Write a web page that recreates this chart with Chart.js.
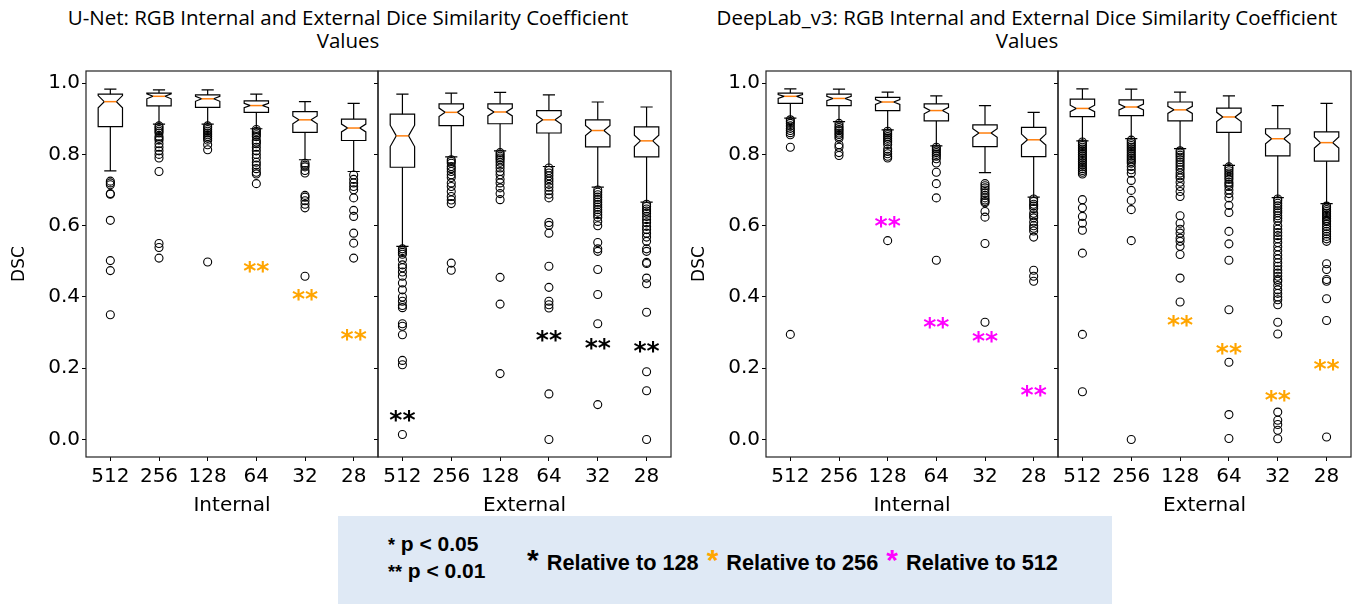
<!DOCTYPE html>
<html>
<head>
<meta charset="utf-8">
<script src="https://cdn.jsdelivr.net/npm/chart.js@4.4.0/dist/chart.umd.min.js"></script>
<style>
  body { margin: 0; width: 1359px; height: 604px; background: #fff; position: relative; overflow: hidden; }
  canvas { position: absolute; }
  .title { position: absolute; top: 6px; font-family: 'Open Sans', sans-serif; font-size: 20.5px; line-height: 23px; text-align: center; color: #000; }
  #legend { position: absolute; left: 338px; top: 516px; width: 774px; height: 88px; background: #dfe9f5; font-family: 'Liberation Sans', Arial, sans-serif; font-weight: bold; color: #000; }
  #pvals { position: absolute; left: 50px; top: 15px; font-size: 21px; line-height: 26px; white-space: pre; }
  #pvals .small { font-size: 18px; }
  #relative { position: absolute; left: 187px; top: 28px; font-size: 21.7px; line-height: 32px; white-space: pre; }
  #relative .star { font-size: 30px; margin: 0 2px; }
</style>
</head>
<body>
<div class="title" style="left:0;width:696px">U-Net: RGB Internal and External Dice Similarity Coefficient<br>Values</div>
<div class="title" style="left:697px;width:660px">DeepLab_v3: RGB Internal and External Dice Similarity Coefficient<br>Values</div>

<canvas id="unetInt" width="379" height="460" style="left:0;top:60px"></canvas>
<canvas id="unetExt" width="304" height="460" style="left:368px;top:60px"></canvas>
<canvas id="deepInt" width="379" height="460" style="left:680px;top:60px"></canvas>
<canvas id="deepExt" width="304" height="460" style="left:1048px;top:60px"></canvas>

<div id="legend">
  <div id="pvals"><span class="small">*</span> p &lt; 0.05
<span class="small">**</span> p &lt; 0.01</div>
  <div id="relative"><span class="star">*</span> Relative to 128 <span class="star" style="color:#ffa500">*</span> Relative to 256 <span class="star" style="color:#ff00ff">*</span> Relative to 512</div>
</div>

<script>
const resolutions = ['512', '256', '128', '64', '32', '28'];
const yTicks = [0, 0.2, 0.4, 0.6, 0.8, 1.0];
const yTickLabels = ['0.0', '0.2', '0.4', '0.6', '0.8', '1.0'];
const yMin = -0.049;
const yMax = 1.034;

// each row: [whisker low, Q1, notch low, median, notch high, Q3, whisker high]
const unetInternalBoxes = [
  [0.754, 0.878, 0.931, 0.948, 0.965, 0.969, 0.983],
  [0.885, 0.936, 0.956, 0.963, 0.970, 0.972, 0.981],
  [0.885, 0.932, 0.949, 0.956, 0.963, 0.967, 0.981],
  [0.872, 0.918, 0.931, 0.937, 0.943, 0.950, 0.969],
  [0.785, 0.862, 0.886, 0.897, 0.908, 0.920, 0.948],
  [0.752, 0.839, 0.863, 0.874, 0.885, 0.899, 0.943]
];
const unetInternalOutliers = [
  [0.725, 0.720, 0.715, 0.690, 0.688, 0.615, 0.502, 0.474, 0.350],
  [0.880, 0.875, 0.870, 0.865, 0.860, 0.850, 0.845, 0.840, 0.830, 0.820, 0.810, 0.800, 0.790, 0.752, 0.550, 0.539, 0.509],
  [0.880, 0.875, 0.870, 0.865, 0.860, 0.855, 0.850, 0.845, 0.840, 0.827, 0.813, 0.498],
  [0.870, 0.865, 0.860, 0.855, 0.850, 0.840, 0.835, 0.830, 0.820, 0.810, 0.800, 0.790, 0.778, 0.770, 0.760, 0.750, 0.745, 0.718],
  [0.775, 0.770, 0.765, 0.755, 0.748, 0.685, 0.680, 0.670, 0.660, 0.650, 0.458],
  [0.742, 0.730, 0.720, 0.710, 0.701, 0.678, 0.643, 0.626, 0.579, 0.551, 0.509]
];
const unetInternalStars = [null, null, null, 0.490, 0.411, 0.299];

const unetExternalBoxes = [
  [0.542, 0.764, 0.822, 0.852, 0.882, 0.913, 0.969],
  [0.793, 0.881, 0.906, 0.918, 0.930, 0.942, 0.972],
  [0.810, 0.886, 0.908, 0.919, 0.930, 0.942, 0.974],
  [0.766, 0.860, 0.885, 0.897, 0.909, 0.923, 0.967],
  [0.708, 0.821, 0.853, 0.867, 0.881, 0.897, 0.947],
  [0.666, 0.793, 0.822, 0.838, 0.854, 0.877, 0.933]
];
const unetExternalOutliers = [
  [0.535, 0.530, 0.525, 0.520, 0.505, 0.490, 0.482, 0.470, 0.458, 0.439, 0.420, 0.400, 0.388, 0.376, 0.370, 0.325, 0.318, 0.294, 0.222, 0.210, 0.014],
  [0.785, 0.780, 0.775, 0.766, 0.760, 0.752, 0.743, 0.735, 0.720, 0.710, 0.696, 0.682, 0.672, 0.662, 0.495, 0.475],
  [0.805, 0.800, 0.795, 0.790, 0.785, 0.778, 0.770, 0.762, 0.752, 0.743, 0.730, 0.720, 0.706, 0.690, 0.673, 0.455, 0.380, 0.185],
  [0.762, 0.755, 0.748, 0.740, 0.732, 0.725, 0.716, 0.708, 0.698, 0.688, 0.678, 0.609, 0.601, 0.579, 0.486, 0.427, 0.388, 0.378, 0.369, 0.128, 0.000],
  [0.700, 0.694, 0.687, 0.680, 0.673, 0.666, 0.659, 0.652, 0.645, 0.638, 0.631, 0.624, 0.612, 0.600, 0.553, 0.535, 0.528, 0.477, 0.407, 0.325, 0.098],
  [0.660, 0.654, 0.647, 0.641, 0.635, 0.626, 0.617, 0.608, 0.598, 0.589, 0.579, 0.568, 0.556, 0.535, 0.528, 0.497, 0.494, 0.453, 0.437, 0.357, 0.190, 0.137, 0.000]
];
const unetExternalStars = [0.070, null, null, 0.294, 0.274, 0.264];

const deepInternalBoxes = [
  [0.902, 0.943, 0.957, 0.963, 0.968, 0.972, 0.984],
  [0.892, 0.937, 0.951, 0.957, 0.963, 0.969, 0.983],
  [0.869, 0.923, 0.940, 0.947, 0.954, 0.960, 0.975],
  [0.824, 0.894, 0.914, 0.923, 0.932, 0.942, 0.964],
  [0.749, 0.822, 0.848, 0.860, 0.872, 0.883, 0.937],
  [0.680, 0.794, 0.826, 0.841, 0.857, 0.876, 0.918]
];
const deepInternalOutliers = [
  [0.897, 0.892, 0.887, 0.880, 0.873, 0.867, 0.861, 0.855, 0.820, 0.295],
  [0.887, 0.880, 0.875, 0.870, 0.866, 0.860, 0.856, 0.850, 0.845, 0.827, 0.820, 0.805, 0.797],
  [0.865, 0.860, 0.855, 0.850, 0.845, 0.840, 0.835, 0.828, 0.815, 0.808, 0.802, 0.795, 0.790, 0.558],
  [0.820, 0.815, 0.810, 0.805, 0.800, 0.795, 0.788, 0.776, 0.750, 0.718, 0.678, 0.503],
  [0.718, 0.712, 0.706, 0.700, 0.692, 0.685, 0.678, 0.672, 0.668, 0.664, 0.640, 0.624, 0.550, 0.329],
  [0.675, 0.668, 0.660, 0.655, 0.648, 0.635, 0.628, 0.622, 0.610, 0.600, 0.593, 0.585, 0.568, 0.475, 0.458, 0.444]
];
const deepInternalStars = [null, null, 0.615, 0.332, 0.292, 0.142];

const deepExternalBoxes = [
  [0.838, 0.906, 0.920, 0.929, 0.938, 0.955, 0.984],
  [0.844, 0.909, 0.925, 0.933, 0.941, 0.953, 0.983],
  [0.816, 0.894, 0.915, 0.925, 0.935, 0.947, 0.975],
  [0.769, 0.862, 0.892, 0.905, 0.918, 0.930, 0.964],
  [0.679, 0.796, 0.830, 0.844, 0.858, 0.872, 0.937],
  [0.662, 0.781, 0.818, 0.833, 0.849, 0.863, 0.943]
];
const deepExternalOutliers = [
  [0.835, 0.830, 0.825, 0.820, 0.815, 0.810, 0.805, 0.800, 0.795, 0.790, 0.785, 0.780, 0.775, 0.770, 0.765, 0.760, 0.755, 0.750, 0.745, 0.673, 0.650, 0.626, 0.607, 0.587, 0.523, 0.295, 0.134],
  [0.840, 0.835, 0.830, 0.825, 0.820, 0.815, 0.810, 0.805, 0.800, 0.795, 0.790, 0.785, 0.780, 0.775, 0.766, 0.757, 0.747, 0.727, 0.699, 0.671, 0.645, 0.558, 0.000],
  [0.810, 0.804, 0.798, 0.792, 0.785, 0.778, 0.771, 0.764, 0.757, 0.748, 0.740, 0.734, 0.722, 0.710, 0.696, 0.682, 0.628, 0.607, 0.590, 0.579, 0.565, 0.556, 0.542, 0.519, 0.453, 0.386],
  [0.765, 0.760, 0.754, 0.748, 0.742, 0.736, 0.730, 0.722, 0.716, 0.710, 0.700, 0.690, 0.678, 0.657, 0.637, 0.584, 0.549, 0.503, 0.364, 0.217, 0.070, 0.003],
  [0.675, 0.670, 0.663, 0.656, 0.649, 0.642, 0.636, 0.628, 0.621, 0.614, 0.600, 0.590, 0.581, 0.572, 0.563, 0.553, 0.541, 0.530, 0.518, 0.507, 0.496, 0.486, 0.476, 0.467, 0.458, 0.449, 0.444, 0.432, 0.420, 0.410, 0.400, 0.392, 0.378, 0.329, 0.296, 0.077, 0.054, 0.042, 0.026, 0.002],
  [0.655, 0.650, 0.645, 0.640, 0.635, 0.630, 0.626, 0.620, 0.615, 0.612, 0.605, 0.598, 0.591, 0.584, 0.577, 0.570, 0.563, 0.556, 0.493, 0.477, 0.449, 0.444, 0.395, 0.334, 0.007]
];
const deepExternalStars = [null, null, 0.338, 0.259, 0.126, 0.215];

const BOX_W = 0.5;
const STAR_SIZE = 25;

Chart.defaults.font.family = "'DejaVu Sans', sans-serif";
Chart.defaults.color = '#000';

// draws notched boxes, significance stars and the frame using the chart scales
function boxPlugin(boxes, stars, starColor) {
  return {
    id: 'notchedBoxes',
    beforeDatasetsDraw(chart) {
      const ctx = chart.ctx;
      const x = chart.scales.x, y = chart.scales.y;
      ctx.save();
      boxes.forEach((b, i) => {
        const [lo, q1, ciLo, med, ciHi, q3, hi] = b.map(v => y.getPixelForValue(v));
        const pos = i + 1;
        const bl = x.getPixelForValue(pos - BOX_W / 2), br = x.getPixelForValue(pos + BOX_W / 2);
        const nl = x.getPixelForValue(pos - BOX_W / 4), nr = x.getPixelForValue(pos + BOX_W / 4);
        const cx = x.getPixelForValue(pos);
        ctx.strokeStyle = '#000';
        ctx.lineWidth = 1.2;
        ctx.beginPath();
        ctx.moveTo(bl, q1);
        ctx.lineTo(br, q1);
        ctx.lineTo(br, ciLo);
        ctx.lineTo(nr, med);
        ctx.lineTo(br, ciHi);
        ctx.lineTo(br, q3);
        ctx.lineTo(bl, q3);
        ctx.lineTo(bl, ciHi);
        ctx.lineTo(nl, med);
        ctx.lineTo(bl, ciLo);
        ctx.closePath();
        ctx.stroke();
        ctx.beginPath();
        ctx.moveTo(cx, q1); ctx.lineTo(cx, lo);
        ctx.moveTo(cx, q3); ctx.lineTo(cx, hi);
        ctx.moveTo(nl, lo); ctx.lineTo(nr, lo);
        ctx.moveTo(nl, hi); ctx.lineTo(nr, hi);
        ctx.stroke();
        ctx.strokeStyle = '#ff7f0e';
        ctx.lineWidth = 1.5;
        ctx.beginPath();
        ctx.moveTo(nl, med); ctx.lineTo(nr, med);
        ctx.stroke();
      });
      ctx.restore();
    },
    afterDraw(chart) {
      const ctx = chart.ctx;
      const x = chart.scales.x, y = chart.scales.y;
      const a = chart.chartArea;
      ctx.save();
      ctx.fillStyle = starColor;
      ctx.font = 'bold ' + STAR_SIZE + "px 'DejaVu Sans'";
      ctx.textAlign = 'center';
      ctx.textBaseline = 'alphabetic';
      stars.forEach((v, i) => {
        if (v === null) return;
        ctx.fillText('**', x.getPixelForValue(i + 1), y.getPixelForValue(v) + STAR_SIZE * 0.545);
      });
      ctx.strokeStyle = '#222';
      ctx.lineWidth = 1.2;
      ctx.strokeRect(a.left, a.top, a.right - a.left, a.bottom - a.top);
      ctx.restore();
    }
  };
}

function noPadding(s) {
  s.paddingLeft = 0;
  s.paddingRight = 0;
  s.paddingTop = 0;
  s.paddingBottom = 0;
}

function makePanel(id, boxes, outliers, stars, starColor, xTitle, showY) {
  const tickFont = { family: "'DejaVu Sans'", size: 20 };
  new Chart(document.getElementById(id), {
    type: 'scatter',
    data: {
      datasets: [{
        data: outliers.flatMap((vals, i) => vals.map(v => ({ x: i + 1, y: v }))),
        pointStyle: 'circle',
        pointRadius: 4,
        pointBorderWidth: 1.1,
        pointBorderColor: '#000',
        pointBackgroundColor: 'rgba(0,0,0,0)',
        showLine: false
      }]
    },
    options: {
      responsive: false,
      animation: false,
      devicePixelRatio: 1,
      layout: { autoPadding: false, padding: { top: 11, right: 1, left: 0, bottom: 0 } },
      plugins: { legend: { display: false }, tooltip: { enabled: false }, title: { display: false } },
      scales: {
        x: {
          type: 'linear',
          min: 0.5,
          max: 6.5,
          afterBuildTicks: s => { s.ticks = resolutions.map((_, i) => ({ value: i + 1 })); },
          afterFit: s => { s.height = 63; noPadding(s); },
          ticks: { callback: (v, i) => resolutions[i], font: tickFont, color: '#000', padding: 4, maxRotation: 0, autoSkip: false },
          grid: { drawOnChartArea: false, drawTicks: true, tickLength: 4, tickColor: '#000', tickWidth: 1 },
          border: { display: false },
          title: { display: true, text: xTitle, font: tickFont, color: '#000', padding: { top: 0, bottom: 2 } }
        },
        y: {
          type: 'linear',
          min: yMin,
          max: yMax,
          afterBuildTicks: s => { s.ticks = yTicks.map(v => ({ value: v })); },
          afterFit: s => { s.width = showY ? 86 : 10; noPadding(s); },
          ticks: { display: showY, callback: (v, i) => yTickLabels[i], font: tickFont, color: '#000', padding: 2, autoSkip: false },
          grid: { drawOnChartArea: false, drawTicks: true, tickLength: 4, tickColor: '#000', tickWidth: 1 },
          border: { display: false },
          title: { display: showY, text: 'DSC', font: { family: "'DejaVu Sans'", size: 17 }, color: '#000', padding: { top: 9, bottom: 0 } }
        }
      }
    },
    plugins: [boxPlugin(boxes, stars, starColor)]
  });
}

makePanel('unetInt', unetInternalBoxes, unetInternalOutliers, unetInternalStars, '#ffa500', 'Internal', true);
makePanel('unetExt', unetExternalBoxes, unetExternalOutliers, unetExternalStars, '#000000', 'External', false);
makePanel('deepInt', deepInternalBoxes, deepInternalOutliers, deepInternalStars, '#ff00ff', 'Internal', true);
makePanel('deepExt', deepExternalBoxes, deepExternalOutliers, deepExternalStars, '#ffa500', 'External', false);
</script>
</body>
</html>
